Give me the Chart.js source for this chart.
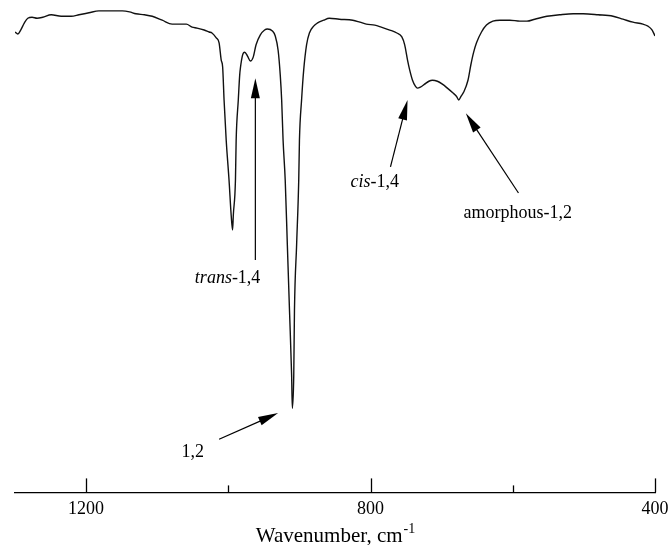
<!DOCTYPE html>
<html>
<head>
<meta charset="utf-8">
<script src="https://cdn.jsdelivr.net/npm/chart.js@4.4.0/dist/chart.umd.min.js"></script>
<style>
    html, body { margin: 0; padding: 0; background: #fff; }
</style>
</head>
<body>
<canvas id="myChart" width="669" height="545"></canvas>
<script>
// spectrum (wavenumber cm-1, transmittance %)
const wavenumbers = [
    1300, 1296, 1292, 1287, 1282, 1276, 1269, 1261, 1249, 1235, 1221, 1210, 1196, 1182, 1165, 1149,
    1139, 1130, 1118, 1107, 1093, 1079, 1069, 1059, 1051, 1044, 1034, 1027, 1023, 1017, 1013, 1010,
    1008, 1006, 1003, 999, 996, 994, 993, 990, 989, 986, 984, 983, 980, 977, 973, 969,
    965, 961, 955, 949, 945, 938, 934, 930, 927, 925, 923, 920, 917, 914, 911, 910,
    908, 907, 904, 901, 900, 897, 894, 890, 886, 880, 875, 866, 858, 844, 825, 815,
    806, 794, 785, 773, 763, 756, 752, 748, 745, 741, 737, 734, 730, 724, 718, 713,
    706, 699, 692, 684, 679, 676, 673, 669, 663, 659, 655, 651, 644, 637, 628, 618,
    604, 590, 580, 569, 552, 534, 515, 501, 480, 459, 445, 431, 417, 410, 404, 400
];
const transmittance = [
    93.5, 93.1, 93.9, 95.3, 96.3, 96.5, 96.3, 96.5, 97.0, 96.7, 96.7, 97.0, 97.4, 97.8, 97.8, 97.8,
    97.6, 97.2, 97.0, 96.7, 95.9, 95.1, 95.1, 95.1, 94.5, 94.3, 93.9, 93.5, 93.3, 92.3, 91.3, 87.8,
    86.4, 79.7, 71.5, 63.4, 56.3, 53.3, 56.3, 63.4, 71.5, 79.7, 84.8, 86.2, 88.8, 89.4, 88.6, 87.6,
    88.4, 90.9, 92.9, 93.9, 94.1, 93.7, 92.7, 89.8, 84.8, 79.7, 71.5, 63.4, 50.2, 37.0, 23.8, 17.1,
    23.8, 37.0, 50.2, 63.4, 71.5, 79.7, 85.8, 90.9, 93.3, 94.7, 95.3, 95.9, 96.3, 96.1, 95.9, 95.5,
    95.1, 94.9, 94.5, 93.9, 93.3, 92.5, 90.9, 87.8, 85.8, 83.7, 82.5, 82.1, 82.3, 82.9, 83.5, 83.7,
    83.5, 82.9, 82.1, 81.1, 80.4, 79.7, 80.4, 81.3, 83.7, 86.8, 89.4, 91.3, 93.5, 94.9, 95.7, 95.9,
    95.9, 95.7, 95.7, 96.1, 96.7, 97.0, 97.2, 97.2, 97.0, 96.7, 96.1, 95.5, 95.1, 94.7, 93.9, 92.7
];

const tickValues = [1200, 1000, 800, 600, 400];
const tickLabels = ['1200', '', '800', '', '400'];

// band labels and their arrows, in data units
const bandItalic = ['trans', '', 'cis', ''];
const bandText = ['-1,4', '1,2', '-1,4', 'amorphous-1,2'];
const bandLabelX = [1001, 1050, 794, 593];
const bandLabelY = [42.5, 7.1, 62.0, 55.7];
const arrowFromX = [962, 1013, 772, 592];
const arrowFromY = [47.2, 10.8, 66.1, 60.8];
const arrowToX = [962, 930, 748, 666];
const arrowToY = [84.1, 16.1, 79.7, 77.0];

const serif = '"Liberation Serif", "Times New Roman", serif';

function drawArrow(ctx, x1, y1, x2, y2) {
    const ang = Math.atan2(y2 - y1, x2 - x1);
    const len = 20, half = 4.5;
    const bx = x2 - Math.cos(ang) * len, by = y2 - Math.sin(ang) * len;
    ctx.beginPath();
    ctx.moveTo(x1, y1);
    ctx.lineTo(bx + Math.cos(ang) * 4, by + Math.sin(ang) * 4);
    ctx.stroke();
    ctx.beginPath();
    ctx.moveTo(x2, y2);
    ctx.lineTo(bx - Math.sin(ang) * half, by + Math.cos(ang) * half);
    ctx.lineTo(bx + Math.sin(ang) * half, by - Math.cos(ang) * half);
    ctx.closePath();
    ctx.fill();
}

const extras = {
    id: 'extras',
    afterDraw(chart) {
        const ctx = chart.ctx;
        const area = chart.chartArea;
        const x = chart.scales.x, y = chart.scales.y;
        ctx.save();
        ctx.strokeStyle = '#000';
        ctx.fillStyle = '#000';
        ctx.lineWidth = 1.3;

        // tick marks point up into the plot
        tickValues.forEach((v, i) => {
            const px = Math.round(x.getPixelForValue(v)) + 0.5;
            const len = tickLabels[i] ? 14 : 7;
            ctx.beginPath();
            ctx.moveTo(px, area.bottom);
            ctx.lineTo(px, area.bottom - len);
            ctx.stroke();
        });

        // arrows
        ctx.lineWidth = 1.2;
        arrowFromX.forEach((v, i) => {
            drawArrow(ctx,
                x.getPixelForValue(v), y.getPixelForValue(arrowFromY[i]),
                x.getPixelForValue(arrowToX[i]), y.getPixelForValue(arrowToY[i]));
        });

        // band labels
        ctx.textBaseline = 'alphabetic';
        ctx.textAlign = 'left';
        bandText.forEach((t, i) => {
            ctx.font = 'italic 18px ' + serif;
            const wi = ctx.measureText(bandItalic[i]).width;
            ctx.font = '18px ' + serif;
            const wt = ctx.measureText(t).width;
            const x0 = x.getPixelForValue(bandLabelX[i]) - (wi + wt) / 2;
            const y0 = y.getPixelForValue(bandLabelY[i]);
            ctx.font = 'italic 18px ' + serif;
            ctx.fillText(bandItalic[i], x0, y0);
            ctx.font = '18px ' + serif;
            ctx.fillText(t, x0 + wi, y0);
        });

        // axis title with superscript
        const main = 'Wavenumber, cm', sup = '-1';
        ctx.font = '21px ' + serif;
        const wm = ctx.measureText(main).width;
        ctx.font = '14px ' + serif;
        const ws = ctx.measureText(sup).width;
        const tx = (area.left + area.right) / 2 - (wm + ws) / 2;
        ctx.font = '21px ' + serif;
        ctx.fillText(main, tx, 542);
        ctx.font = '14px ' + serif;
        ctx.fillText(sup, tx + wm + 1, 533);
        ctx.restore();
    }
};

const ctx = document.getElementById('myChart').getContext('2d');
window.myChartInstance = new Chart(ctx, {
    type: 'line',
    data: {
        datasets: [{
            label: 'Spectrum',
            data: wavenumbers.map((w, i) => ({ x: w, y: transmittance[i] })),
            borderColor: '#111',
            borderWidth: 1.4,
            pointRadius: 0,
            fill: false,
            cubicInterpolationMode: 'monotone'
        }]
    },
    options: {
        responsive: false,
        animation: false,
        layout: { padding: { left: 15, right: 14, top: 0, bottom: 19 } },
        plugins: {
            legend: { display: false },
            title: { display: false },
            tooltip: { enabled: false }
        },
        scales: {
            x: {
                type: 'linear',
                min: 400,
                max: 1300,
                reverse: true,
                afterBuildTicks: scale => {
                    scale.ticks = tickValues.map(v => ({ value: v }));
                },
                // the "400" label may hang over the plot edge, like in the original
                afterFit: scale => {
                    scale.paddingLeft = 0;
                    scale.paddingRight = 0;
                },
                grid: { drawOnChartArea: false, drawTicks: false },
                border: { display: true, color: '#000', width: 1.3 },
                ticks: {
                    autoSkip: false,
                    maxRotation: 0,
                    padding: 6,
                    color: '#000',
                    font: { family: serif, size: 18 },
                    callback: (value) => tickLabels[tickValues.indexOf(value)] || ''
                }
            },
            y: {
                display: false,
                min: 0,
                max: 100
            }
        }
    },
    plugins: [extras]
});
</script>
</body>
</html>
